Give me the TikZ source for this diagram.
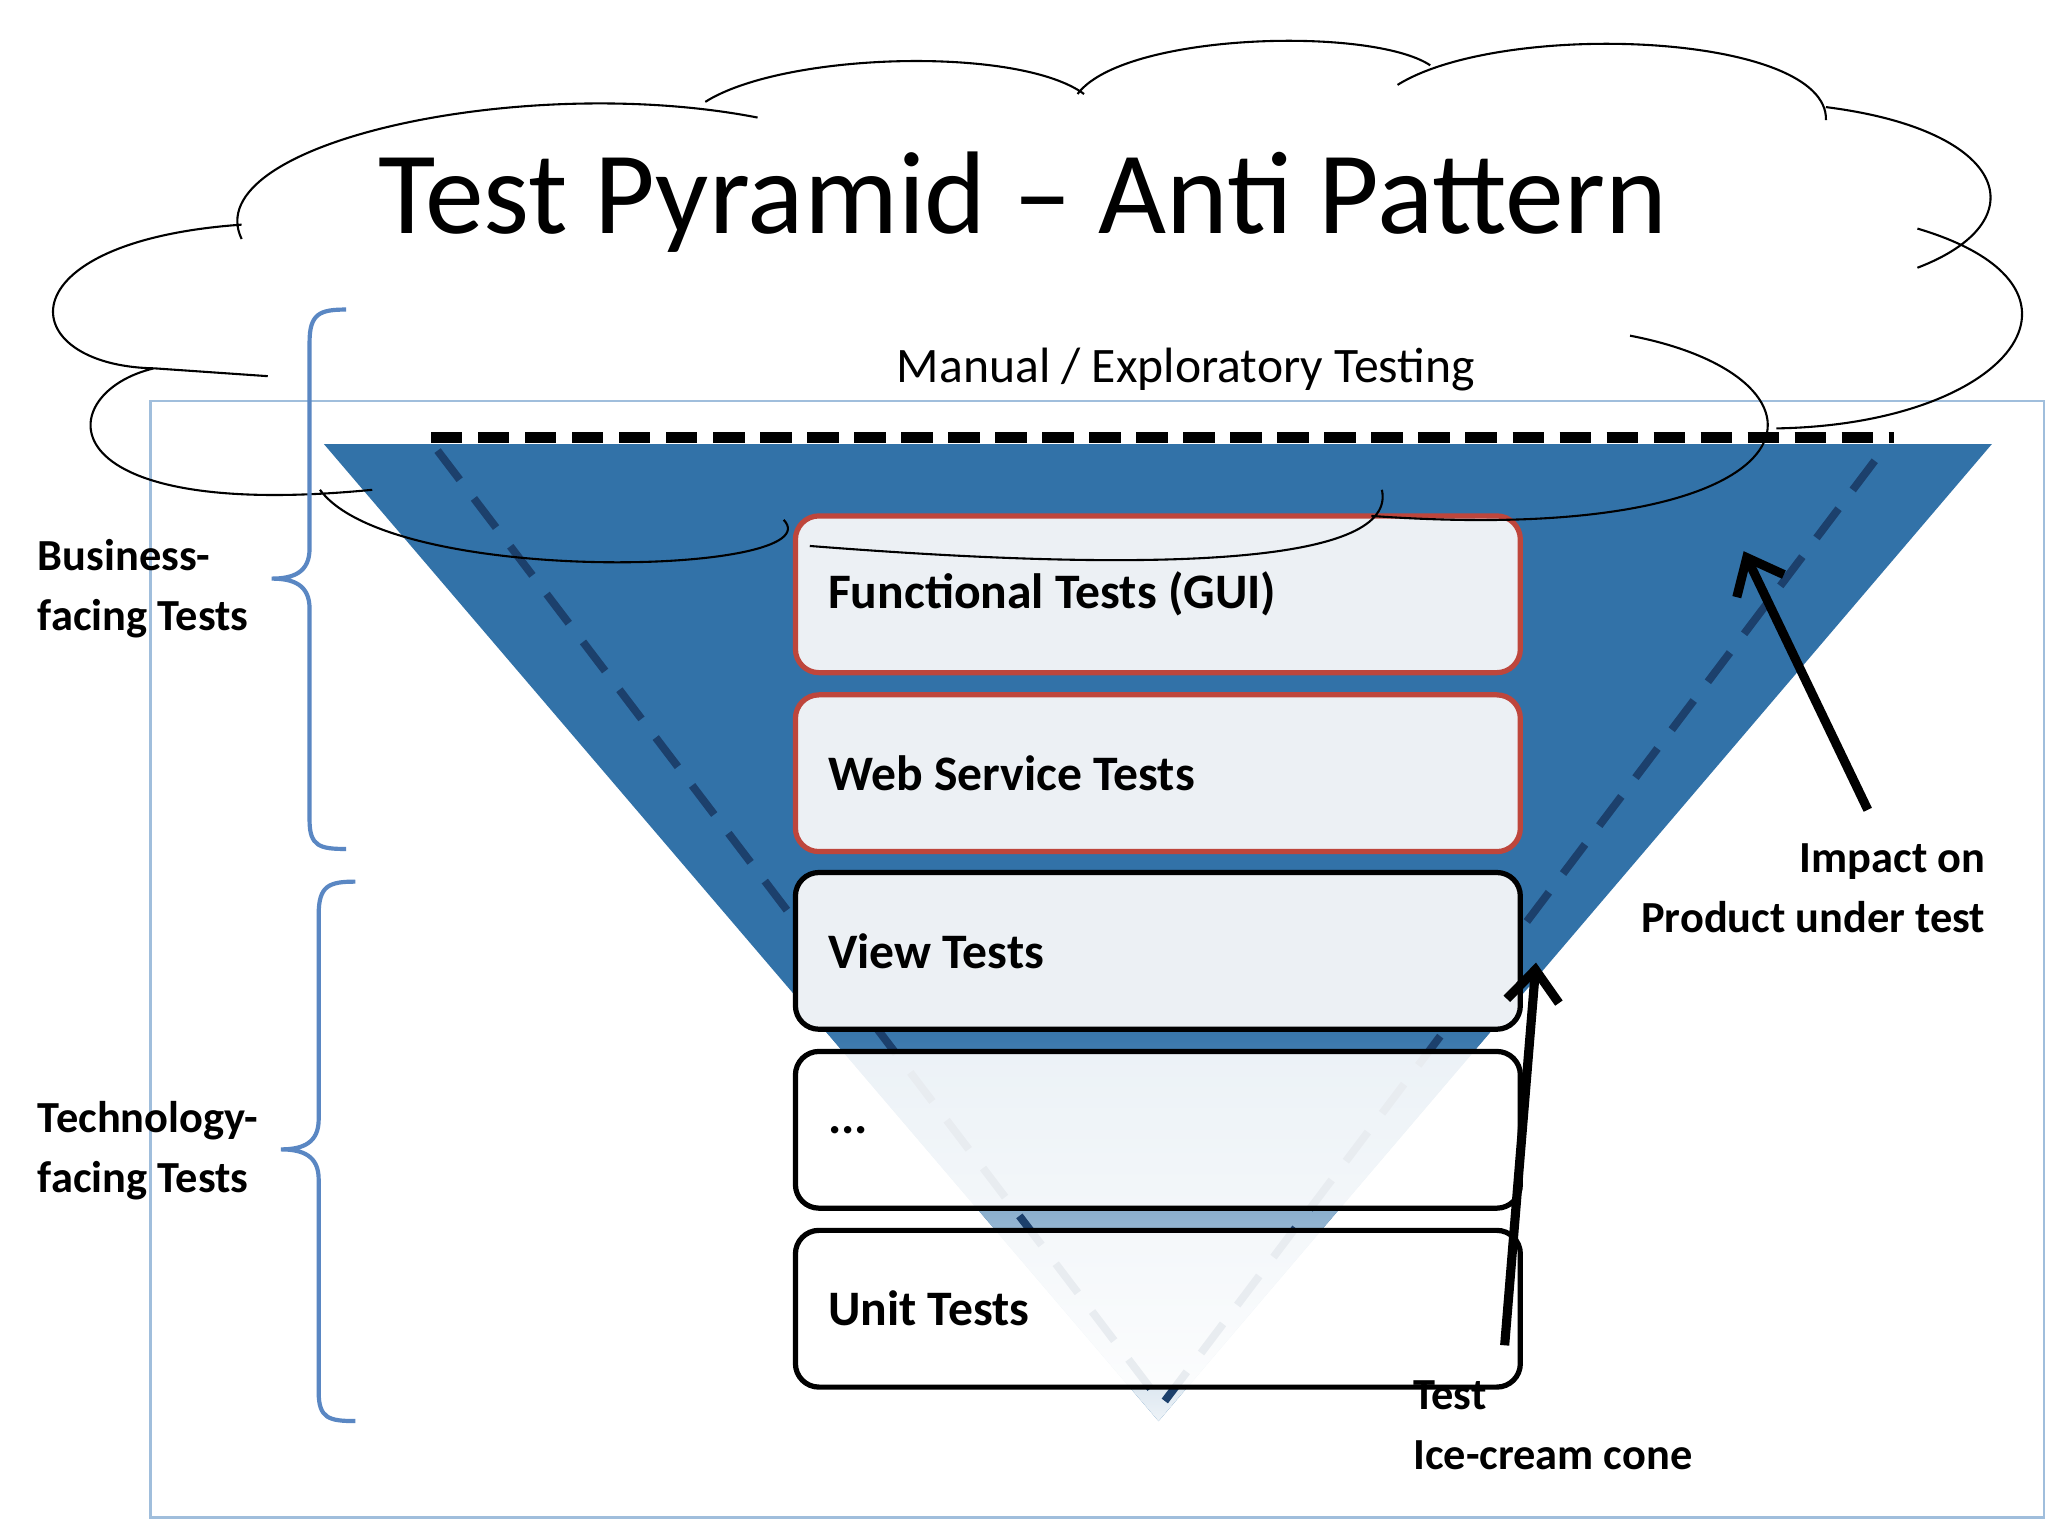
\documentclass[tikz,border=0pt]{standalone}
\usepackage{fontspec}
\setmainfont{Carlito}
\usetikzlibrary{arrows.meta}
\definecolor{cone}{RGB}{50,114,168}
\definecolor{navy}{RGB}{28,64,108}
\definecolor{frame}{RGB}{160,190,220}
\definecolor{brace}{RGB}{90,135,195}
\definecolor{boxfill}{RGB}{236,240,244}
\definecolor{redline}{RGB}{190,70,60}
\begin{document}
\begin{tikzpicture}[x=0.5pt,y=-0.5pt,
  layer/.style={draw, line width=2pt, rounded corners=9pt, minimum width=277.5pt, minimum height=60pt, inner sep=0pt, anchor=north west},
  lbl/.style={font=\bfseries\fontsize{19}{23}\selectfont, anchor=west, text=black},
  side/.style={font=\bfseries\fontsize{17}{23}\selectfont, align=left},
  brc/.style={draw=brace, line width=1.6pt}]
\useasboundingbox (0,0) rectangle (1568,1176);
\fill[white] (0,0) rectangle (1568,1176);
% frame
\draw[frame, line width=1pt] (115,307) rectangle (1565,1162);
% cone
\fill[cone] (248,340) -- (1525,340) -- (887,1088) -- cycle;
\begin{scope}
\clip (248,340) -- (1525,340) -- (887,1088) -- cycle;
\shade[top color=cone, bottom color=white!92!cone] (200,780) rectangle (1600,1090);
\end{scope}
% dashed inner cone
\draw[navy, line width=3pt, dash pattern=on 14pt off 9pt] (335,345) -- (890,1075) -- (1445,340);
% manual line
\draw[black, line width=4pt, dash pattern=on 12pt off 6pt] (330,335) -- (1450,335);
% layers
\node[layer, draw=redline, fill=boxfill] (f) at (607,393) {};
\node[lbl] at ([xshift=10pt]f.west) {Functional Tests (GUI)};
\node[layer, draw=redline, fill=boxfill] (w) at (607,530) {};
\node[lbl] at ([xshift=10pt]w.west) {Web Service Tests};
\node[layer, draw=black, fill=boxfill] (v) at (607,666) {};
\node[lbl] at ([xshift=10pt]v.west) {View Tests};
\node[layer, draw=black, fill=white, fill opacity=0.9] (d) at (607,803) {};
\node[lbl] at ([xshift=10pt]d.west) {...};
\node[layer, draw=black, fill=white, fill opacity=0.9] (u) at (607,940) {};
\node[lbl] at ([xshift=10pt]u.west) {Unit Tests};
% cloud
\draw[black, line width=0.8pt]
 (185,183) .. controls (150,110) and (400,55) .. (580,90)
 (540,78) .. controls (600,40) and (780,35) .. (830,72)
 (825,72) .. controls (860,25) and (1050,20) .. (1095,50)
 (1070,65) .. controls (1150,15) and (1400,25) .. (1398,92)
 (1398,82) .. controls (1540,100) and (1560,170) .. (1468,205)
 (1468,175) .. controls (1620,220) and (1540,325) .. (1360,328)
 (1248,257) .. controls (1420,290) and (1400,420) .. (1050,395)
 (1058,375) .. controls (1070,430) and (900,440) .. (620,418)
 (600,398) .. controls (640,440) and (300,450) .. (245,375)
 (285,375) .. controls (30,400) and (40,300) .. (118,282)
 (118,282) -- (205,288)
 (185,172) .. controls (0,185) and (10,280) .. (118,282);
\node[font=\fontsize{45}{50}\selectfont, anchor=center] (t) at (783,155) {Test Pyramid – Anti Pattern};
\node[font=\fontsize{19}{23}\selectfont] (m) at (908,283) {Manual / Exploratory Testing};
% braces
\draw[brc] (265,237) .. controls (245,237) and (237,240) .. (237,262) -- (237,420) .. controls (237,438) and (225,443) .. (208,443)
 .. controls (225,443) and (237,448) .. (237,466) -- (237,628) .. controls (237,648) and (245,650) .. (265,650);
\draw[brc] (272,675) .. controls (252,675) and (244,678) .. (244,700) -- (244,857) .. controls (244,875) and (232,880) .. (215,880)
 .. controls (232,880) and (244,885) .. (244,903) -- (244,1066) .. controls (244,1086) and (252,1088) .. (272,1088);
\node[side, anchor=west] (b) at (22,451) {Business-\\facing Tests};
\node[side, anchor=west] (tf) at (22,881) {Technology-\\facing Tests};
\node[side, anchor=east, align=right] (i) at (1527,680) {Impact on\\Product under test};
\node[side, anchor=west] (ic) at (1075,1091) {Test\\Ice-cream cone};
% arrows
\coordinate (a1) at (1430,620); \coordinate (a2) at (1335,422);
\coordinate (b1) at (1152,1030); \coordinate (b2) at (1176,737);
\draw[line width=3.5pt, -{Straight Barb[length=12pt,width=20pt]}] (a1) -- (a2);
\draw[line width=3.5pt, -{Straight Barb[length=12pt,width=20pt]}] (b1) -- (b2);
\end{tikzpicture}
\end{document}
